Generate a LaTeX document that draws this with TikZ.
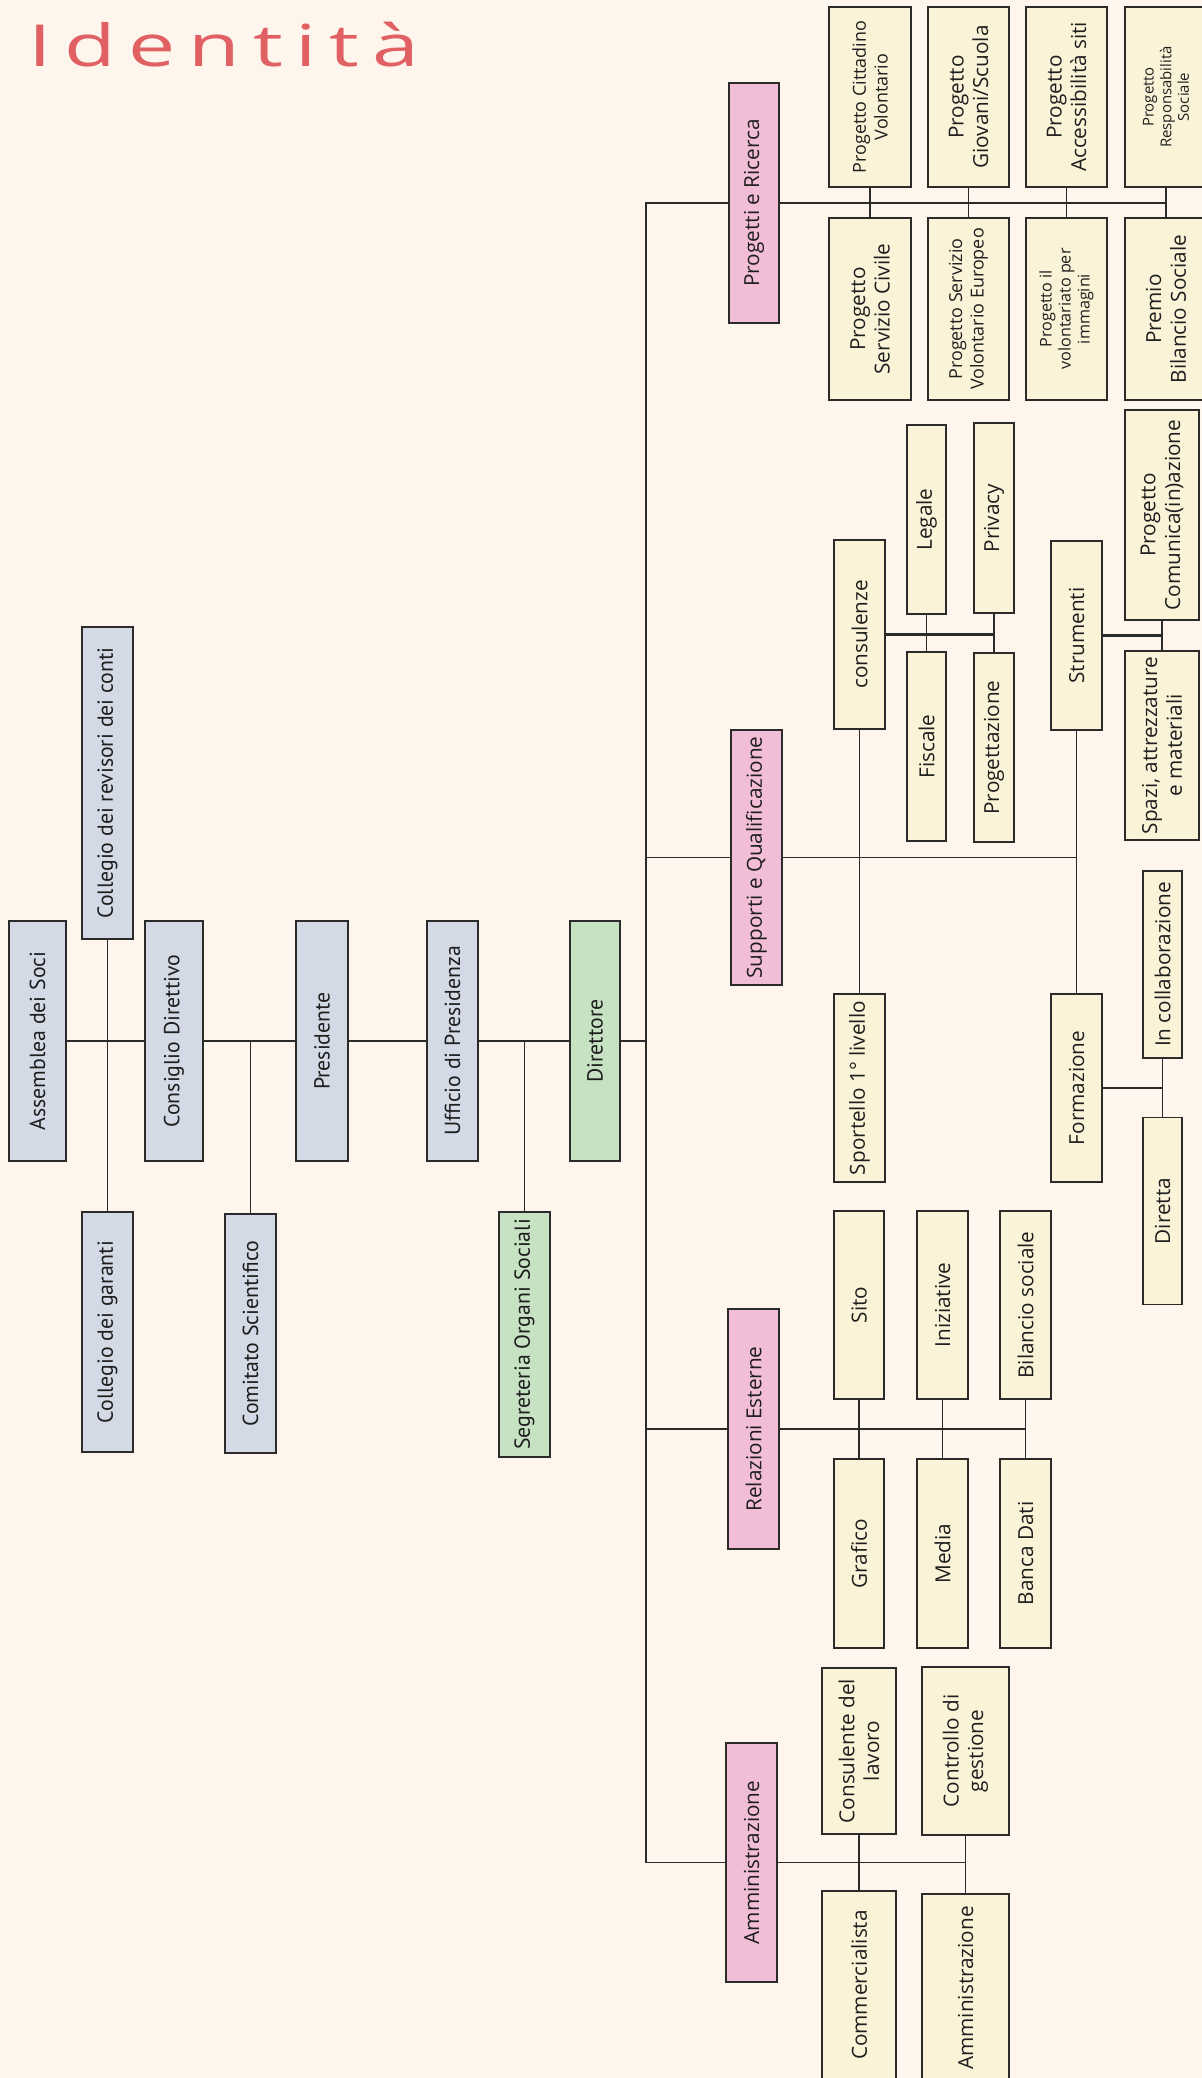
\documentclass[tikz,border=0pt]{standalone}
\usepackage{fontspec}
\setmainfont{Open Sans}
\newfontfamily\leftfont{PT Sans}
\newfontfamily\titlefont[LetterSpace=22,FakeStretch=1.45]{Open Sans}

\definecolor{bgc}{HTML}{FEF5EC}
\definecolor{greyc}{HTML}{D3DAE5}
\definecolor{greenc}{HTML}{C7E2C3}
\definecolor{pinkc}{HTML}{F2BDD6}
\definecolor{yellowc}{HTML}{FBF3D8}
\definecolor{linec}{HTML}{2B2B2B}
\definecolor{textc}{HTML}{1E1E1E}
\definecolor{titlec}{HTML}{E06063}

\newcommand{\fsnormal}{\fontsize{11.8}{14}\selectfont}
\newcommand{\fsleft}{\leftfont\fontsize{12.4}{14.5}\selectfont}
\newcommand{\fssmall}{\fontsize{10.2}{12.3}\selectfont}
\newcommand{\fsmid}{\fontsize{9.2}{10.8}\selectfont}
\newcommand{\fstiny}{\fontsize{8.5}{10}\selectfont}

\begin{document}
\begin{tikzpicture}[x=0.02cm, y=-0.02cm,
  box/.style={draw=linec, line width=1.1pt, rotate=90, inner sep=0pt, align=center, text=textc, font=\fsnormal},
  organ/.style={box, fill=greyc, font=\fsleft},
  staff/.style={box, fill=greenc, font=\fsleft},
  area/.style={box, fill=pinkc},
  unit/.style={box, fill=yellowc},
  link/.style={draw=linec, line width=1pt},
  bus/.style={draw=linec, line width=1.6pt}]

% ── Page ──
\fill[bgc] (0,0) rectangle (1202,2078);
\useasboundingbox (0,0) rectangle (1202,2078);

% Title
\node[font=\titlefont\fontsize{33}{36}\selectfont, text=titlec, anchor=base west, inner sep=0pt] (title) at (28,67) {Identità};

% ── LEFT: governing bodies ──
\node[organ, minimum width=4.8cm, minimum height=1.14cm] (soci) at (37.5,1041) {Assemblea dei Soci};
\node[organ, minimum width=6.24cm, minimum height=1.02cm] (revisori) at (107.5,783) {Collegio dei revisori dei conti};
\node[organ, minimum width=4.8cm, minimum height=1.02cm] (garanti) at (107.5,1332) {Collegio dei garanti};
\node[organ, minimum width=4.8cm, minimum height=1.16cm] (consiglio) at (174,1041) {Consiglio Direttivo};
\node[organ, minimum width=4.78cm, minimum height=1.02cm] (comitato) at (250.5,1333.5) {Comitato Scientifico};
\node[organ, minimum width=4.8cm, minimum height=1.04cm] (presidente) at (322,1041) {Presidente};
\node[organ, minimum width=4.8cm, minimum height=1.02cm] (ufficio) at (452.5,1041) {Ufficio di Presidenza};
\node[staff, minimum width=4.9cm, minimum height=1.02cm] (segreteria) at (524.5,1334.5) {Segreteria Organi Sociali};
\node[staff, minimum width=4.8cm, minimum height=1.0cm] (direttore) at (595,1041) {Direttore};

\draw[link] (soci.south) -- (consiglio.north);
\draw[link] (revisori.west) -- (garanti.east);
\draw[link] (consiglio.south) -- (presidente.north);
\draw[link] (comitato.east) -- (comitato.east |- consiglio.center);
\draw[link] (presidente.south) -- (ufficio.north);
\draw[link] (ufficio.south) -- (direttore.north);
\draw[link] (segreteria.east) -- (segreteria.east |- ufficio.center);

% ── TRUNK: the four areas ──
\coordinate (spine) at (646,1041);
\node[area, minimum width=4.8cm, minimum height=1.0cm] (progetti) at (754,203) {Progetti e Ricerca};
\node[area, minimum width=5.1cm, minimum height=1.02cm] (supporti) at (756.5,857.5) {Supporti e Qualificazione};
\node[area, minimum width=4.8cm, minimum height=1.02cm] (relazioni) at (753.5,1429) {Relazioni Esterne};
\node[area, minimum width=4.78cm, minimum height=1.02cm] (amm) at (751.5,1862.5) {Amministrazione};

\draw[link] (direttore.south) -- (spine);
\draw[link] (progetti.north) -| (spine) |- (amm.north);
\draw[link] (supporti.north) -- (supporti.north -| spine);
\draw[link] (relazioni.north) -- (relazioni.north -| spine);

% -- Progetti e Ricerca --
\node[unit, minimum width=3.6cm, minimum height=1.64cm, font=\fssmall] (cittadino) at (870,97) {Progetto Cittadino\\Volontario};
\node[unit, minimum width=3.6cm, minimum height=1.62cm] (giovani) at (968.5,97) {Progetto\\Giovani/Scuola};
\node[unit, minimum width=3.6cm, minimum height=1.62cm] (accessibilita) at (1066.5,97) {Progetto\\Accessibilità siti};
\node[unit, minimum width=3.6cm, minimum height=1.64cm, font=\fstiny] (responsabilita) at (1166,97) {Progetto\\Responsabilità\\Sociale};
\node[unit, minimum width=3.64cm, minimum height=1.64cm] (civile) at (870,309) {Progetto\\Servizio Civile};
\node[unit, minimum width=3.64cm, minimum height=1.62cm, font=\fssmall] (europeo) at (968.5,309) {Progetto Servizio\\Volontario Europeo};
\node[unit, minimum width=3.64cm, minimum height=1.62cm, font=\fsmid] (immagini) at (1066.5,309) {Progetto il\\volontariato per\\immagini};
\node[unit, minimum width=3.64cm, minimum height=1.64cm] (premio) at (1166,309) {Premio\\Bilancio Sociale};

\draw[bus] (progetti.south) -- (progetti.south -| premio.center);
\draw[link] (cittadino.west) -- (civile.east);
\draw[link] (giovani.west) -- (europeo.east);
\draw[link] (accessibilita.west) -- (immagini.east);
\draw[link] (responsabilita.west) -- (premio.east);

% -- Supporti e Qualificazione --
\node[unit, minimum width=3.78cm, minimum height=1.02cm] (consulenze) at (859.5,634.5) {consulenze};
\node[unit, minimum width=3.78cm, minimum height=0.78cm] (legale) at (926.5,519.5) {Legale};
\node[unit, minimum width=3.8cm, minimum height=0.8cm] (privacy) at (994,518) {Privacy};
\node[unit, minimum width=3.78cm, minimum height=0.78cm] (fiscale) at (926.5,746.5) {Fiscale};
\node[unit, minimum width=3.78cm, minimum height=0.8cm] (progettazione) at (994,747.5) {Progettazione};
\node[unit, minimum width=3.78cm, minimum height=1.02cm] (strumenti) at (1076.5,635.5) {Strumenti};
\node[unit, minimum width=4.2cm, minimum height=1.48cm] (comunica) at (1162,515) {Progetto\\Comunica(in)azione};
\node[unit, minimum width=3.78cm, minimum height=1.48cm] (spazi) at (1162,745.5) {Spazi, attrezzature\\e materiali};
\node[unit, minimum width=3.76cm, minimum height=1.02cm] (sportello) at (859.5,1088) {Sportello 1° livello};
\node[unit, minimum width=3.76cm, minimum height=1.02cm] (formazione) at (1076.5,1088) {Formazione};
\node[unit, minimum width=3.74cm, minimum height=0.78cm] (collab) at (1162.5,964.5) {In collaborazione};
\node[unit, minimum width=3.74cm, minimum height=0.78cm] (diretta) at (1162.5,1211) {Diretta};

\draw[link] (supporti.south) -- (supporti.south -| strumenti.center);
\draw[link] (consulenze.west) -- (sportello.east);
\draw[link] (strumenti.west) -- (formazione.east);
\draw[bus] (consulenze.south) -- (consulenze.south -| privacy.center);
\draw[link] (legale.west) -- (fiscale.east);
\draw[link] (privacy.west) -- (progettazione.east);
\draw[bus] (strumenti.south) -- (strumenti.south -| comunica.center);
\draw[link] (comunica.west) -- (spazi.east);
\draw[link] (formazione.south) -- (formazione.south -| collab.center);
\draw[link] (collab.west) -- (diretta.east);

% -- Relazioni Esterne --
\node[unit, minimum width=3.76cm, minimum height=1.0cm] (sito) at (859,1305) {Sito};
\node[unit, minimum width=3.76cm, minimum height=1.02cm] (iniziative) at (942.5,1305) {Iniziative};
\node[unit, minimum width=3.76cm, minimum height=1.02cm] (bilancio) at (1025.5,1305) {Bilancio sociale};
\node[unit, minimum width=3.78cm, minimum height=1.0cm] (grafico) at (859,1553.5) {Grafico};
\node[unit, minimum width=3.78cm, minimum height=1.02cm] (media) at (942.5,1553.5) {Media};
\node[unit, minimum width=3.78cm, minimum height=1.02cm] (bancadati) at (1025.5,1553.5) {Banca Dati};

\draw[bus] (relazioni.south) -- (relazioni.south -| bilancio.center);
\draw[link] (sito.west) -- (grafico.east);
\draw[link] (iniziative.west) -- (media.east);
\draw[link] (bilancio.west) -- (bancadati.east);

% -- Amministrazione --
\node[unit, minimum width=3.32cm, minimum height=1.48cm] (consulente) at (859,1751) {Consulente del\\lavoro};
\node[unit, minimum width=3.36cm, minimum height=1.74cm] (controllo) at (965.5,1751) {Controllo di\\gestione};
\node[unit, minimum width=3.76cm, minimum height=1.48cm] (commercialista) at (859,1985) {Commercialista};
\node[unit, minimum width=3.76cm, minimum height=1.74cm] (ammgest) at (965.5,1988) {Amministrazione};

\draw[link] (amm.south) -- (amm.south -| controllo.center);
\draw[link] (consulente.west) -- (commercialista.east);
\draw[link] (controllo.west) -- (ammgest.east);

\end{tikzpicture}
\end{document}
